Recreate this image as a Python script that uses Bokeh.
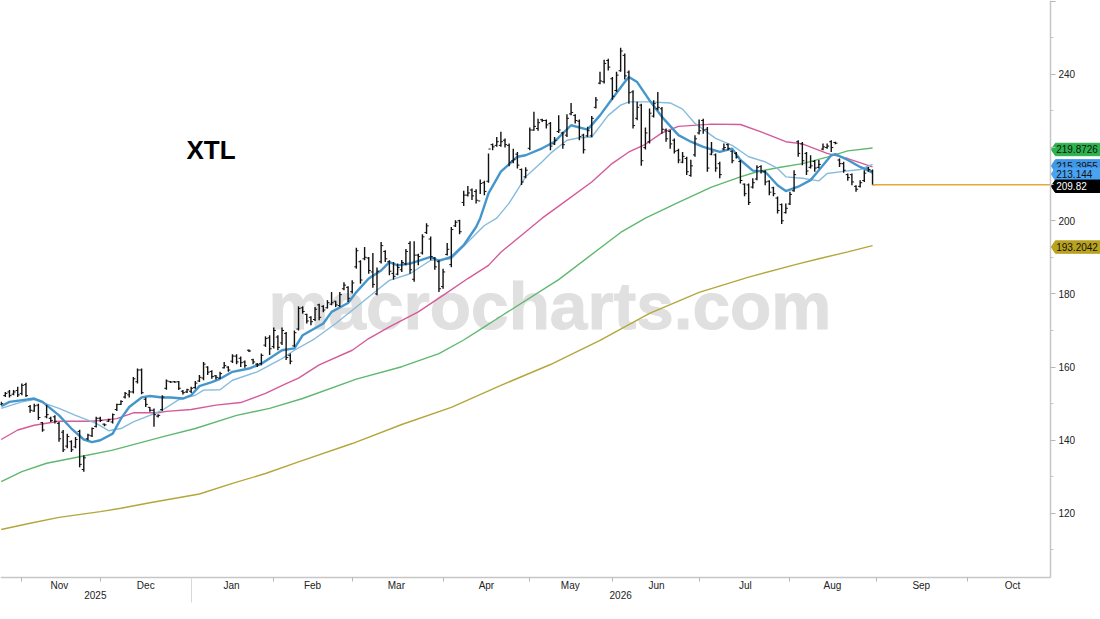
from bokeh.plotting import figure
from bokeh.models import Range1d, LinearAxis, FixedTicker, Label
from bokeh.core.properties import value
from bokeh.embed import file_html
from bokeh.resources import INLINE
import numpy as np

# daily bars
highs = [150.5,153.2,153.7,153.7,154.6,155.5,155.7,149.6,150,150,145,149.6,146.4,146.8,145,142.8,141.8,140,140.9,142.9,135.9,141.8,143.5,146.4,146.4,144.6,145.9,147.3,150,150.9,153.2,153.7,157.3,159.6,159.6,151.7,149.1,148.7,147.1,152.3,156.6,156.2,156.2,156.2,153.7,154.1,154.6,156.2,157.8,161.4,160.2,159.1,157.8,158.7,161.4,160.2,163.5,163.5,162.9,161.8,164.8,162.3,161.1,163.7,
         168.4,168.7,170.8,168.7,170.8,169.6,163.7,170,176.6,176.6,174.6,173.9,176.4,177.3,176.9,178.3,180.5,178.1,180.5,183.2,182.1,183.7,192.6,189.2,192.8,190.1,191.2,187.2,194.2,191.9,189.2,188.7,188.3,189.3,192.3,194.4,194.4,191,196.3,199.3,195.7,190.1,189.2,186.9,193.9,198.3,200.1,200.3,
         208.2,209.5,208.8,208.6,211.3,210.9,218.4,221.1,222.9,224.3,222.5,221.1,219.7,218.8,214.3,214.6,225.5,229.8,227.9,227.9,227.7,227,222.9,228.8,224.3,229.1,232.2,229.1,227.7,223.8,225.7,228.6,233.8,240.7,244,244.3,239.3,240.7,247.3,245.7,241.1,235.7,232.5,232,225.5,230.7,232.9,235.2,231.1,225.2,224.8,222.5,219.7,218.8,217.5,216.7,223.4,227.7,
         227.9,225.6,221.5,218.4,216.1,221.1,221.1,219.3,218.8,216.6,210.2,210.2,211.6,215.2,215.2,213.8,211.1,209.3,206.6,204.7,204.7,207.9,213.8,222,221.5,218.8,217.9,216.6,216.6,221.1,221.1,222,221.6,217,216.1,212.9,212.9,209.7,211.1,213.8,214.7,214]
lows = [149.6,151.8,151.7,152.3,151.8,152.3,151.8,147.5,147.8,145.5,142.3,146,145,144.6,139.6,136.8,137.8,136.8,137.8,132.6,131.4,140,140.9,143.5,145,143.8,145,144.6,148,149.6,151.4,151.7,152.8,155.5,152.6,149.1,147.8,143.7,146.2,148,153.8,155.7,155.7,153.7,152.5,152.9,152.9,154.1,155.9,156.4,157.8,156.8,156.6,156.8,159.6,158.7,161.1,160.8,160,159.8,164.1,160.8,160,160.5,
        165.5,163.3,165.1,164.6,166,161.9,160.8,165.5,170,174.6,171.9,171.4,172.6,172.8,175,176,176.9,176.4,176.4,181,177.8,180.1,186.9,182.8,189.2,185.5,181.7,179.6,188.3,188.7,185.1,183.9,185.1,186,187.8,185.5,183.3,187.8,190.8,196.4,189.2,186.6,180.5,181.4,190.5,187.3,198.3,196.3,
        204,206.6,205.7,204.7,207.3,207,210.4,219.3,220.2,220.2,220,214.9,215.7,214.3,209.8,211.6,219.3,224.6,224.6,227,225.2,219.3,220.7,224,219.7,222.9,228.8,226.6,222,218.4,222.9,222.8,230.7,237.3,237.5,241.1,233.1,235.2,240.7,238.6,232,225.2,227.5,215,219.5,221.1,228.2,230.2,223.8,221.6,219.7,218.4,215.7,215.7,212.5,212,217.5,223.6,
        223.8,213.4,217.9,213.4,211.6,219.3,219.3,215.7,217,210.2,206.7,204.3,208.8,211.1,212.9,209.7,207,206.7,202,199.1,202,204.3,207.9,217.5,215.2,212.5,214.3,213.4,214.3,219.3,219.7,218.8,220.9,214.7,213.1,210.9,209.7,207.9,209.1,210.6,213.4,209.8]
opens = [149.8,152.2,153.2,152.6,153.6,152.8,155.2,149.2,148,149.6,144.8,146.4,146,146.4,144.6,142.2,138.4,139.6,138.2,142.4,132,140.4,141.2,143.8,146,144.4,145.2,145,148.4,149.8,151.8,152.4,153.2,156,159.2,151.2,149,148.2,146.6,148.4,154.2,156,156,156,153.4,153.2,153.4,154.4,156.2,157,160,158.8,157.6,157,159.8,160,161.6,163,162.4,161.4,164.6,162,160.8,161,
         166,168,165.6,168.2,166.6,169.2,163.2,165.8,170.4,176.2,174.4,173.6,173,177,176.6,176.2,177.2,178,176.8,181.4,181.8,180.6,187.4,188.8,189.6,189.8,186,180,188.8,191.6,188.8,185.6,185.4,186.6,188.2,193.8,184,190.6,191.2,196.8,195,189.8,188.8,182,190.8,188,198.6,200,
         205,207,208.4,208,205.4,210.4,210.8,220.8,220.6,220.6,222,220.6,216.4,218.2,214,212,219.8,224.8,225.2,227.6,227.4,226.6,221,224.4,224,223.4,229.2,228.8,227.2,223.4,223.2,223.2,231,237.6,238,243.8,238.8,235.6,241,245.2,240.6,235.2,228,231.6,220,221.6,228.6,230.6,230.6,224.8,224.4,222,219.2,216,217,212.4,218,224,
         227.4,225,218.2,218,215.6,219.6,220.8,219,218.4,216.2,210,209.8,209.2,211.4,214.8,213.4,210.8,209,206.2,204.4,202.2,204.6,208.2,221.6,221,218.4,214.6,216.2,214.6,219.6,220,221.6,221.4,216.6,215.6,212.6,212.6,209.4,209.4,211,214.4,213.6]
closes = [150,152.8,152.2,153.2,152.4,155,152.2,148.2,149.4,146.2,142.8,147,145.4,145.2,140.4,137.4,141,137.4,140.2,133.4,135.2,141.4,143.2,146,145.4,144.2,145.6,147,149.8,150.6,152.8,153.2,156.8,159.2,153,149.8,148.2,147,146.8,151.8,156.2,155.9,155.9,154.2,153,153.8,154.2,155.6,157.2,160.8,158.6,157.4,157.2,158.2,160.4,159.2,163,161.4,161.2,160.4,164.4,161.4,160.6,163.2,
          167.8,165,170,165.4,170,162.6,161.6,169.4,176,175.2,172.6,172.4,175.8,173.6,175.6,177.6,177.6,177,179.8,182.4,178.8,183,191.8,183.8,190,186.4,182.6,186.2,193.2,189.6,186.2,184.8,187.2,188.6,191.6,186.6,190.6,190.2,195.6,198.6,190.2,187.4,181.4,186,192.2,197.6,199.6,197,
          207,207.6,206.8,205.6,210.2,208,219.6,220.2,221.6,221.6,220.8,216,216.8,215.2,210.6,213.8,224.8,225.8,226.8,227.4,226.2,220.4,222,224.8,220.8,228,229.6,227.4,223,219.4,224.6,228,233,238.2,243,242,234,239.8,246.4,239.6,235,226,231,216.4,224,229.4,232,231,225,222.4,221,219,216.6,217.6,213.4,215,222.4,224.6,
          224.8,214.4,218.8,214.4,212.6,220,219.8,216.4,217.4,211,207.4,205,210.4,214.6,213.6,210.6,207.8,207.4,202.8,200,203.4,207.2,212.6,218.4,216.4,213.6,215,214.4,215.4,220.2,220.4,220,221.2,215.6,213.8,211.8,210.6,208.6,210.4,213,214,209.82]

# moving averages, sampled at the bars where they could be read
fast_idx = [0,2,6,8,10,14,17,20,22,24,27,29,31,34,36,39,41,44,46,48,51,53,56,60,63,68,71,73,78,80,84,86,89,92,94,96,99,104,106,109,112,115,116,118,121,125,127,131,134,138,142,145,148,151,152,154,157,160,164,167,170,174,177,179,182,185,188,190,193,196,198,201,202,205,208,211]
fast_ma = [149.3,150.5,151.1,151.4,150.5,146.8,143.2,140.2,139.5,140,141.8,145.9,149.1,151.7,152.1,151.7,151.7,151.4,152.3,154.8,155.9,156.8,158.7,159.6,160.9,164.6,165.1,168.7,171.9,175.1,177.5,180.5,184.2,186.4,188.7,187.8,188.3,190.1,189,190.1,193.3,198.3,200.7,207.5,213.4,217.5,217.9,219.8,221.6,226.1,224.9,228.8,233.4,237.9,239.3,237.9,232.9,228.4,223.4,221.6,220.2,218.8,219.7,216.6,213.7,213.4,209.7,208.1,209.3,211.1,213.8,217.9,218.2,216.6,214.7,213.144]
slow_idx = [0,5,8,14,18,23,26,29,32,36,39,43,47,49,53,56,62,68,71,76,81,86,91,94,99,104,109,113,117,120,123,127,131,133,137,140,143,147,150,152,157,162,165,168,173,177,181,185,188,190,194,198,200,204,208,211]
slow_ma = [148.7,150.5,151.1,148.7,146.8,144.6,142.6,143.2,145,146.8,148.2,151.1,152.3,153.7,153.8,156.4,158.7,162.3,164.6,167.8,171.9,176.4,181,183.7,185.5,189.2,189.6,194.2,198.7,200.7,204.8,212,216.1,218.4,222,222.7,222.9,228.8,231.6,232.5,232.5,232.2,230.5,226.6,222.5,220.6,217.5,216.1,214.3,212,211.6,210.9,212.9,213.5,214,215.3955]
pink_idx = [0,4,8,14,22,28,32,38,40,46,52,58,64,69,72,77,85,89,94,101,107,113,118,121,131,136,143,148,152,156,160,164,172,179,184,190,194,200,205,211]
pink_ma = [140.2,142.8,144.1,145.2,145.2,145.9,147.5,147.5,147.9,148.4,149.6,150.3,152.8,155.5,157,160.6,164.6,167.8,171,175.1,179.6,184.2,187.8,191.4,200.7,204.8,210.6,215.7,218.8,220.9,224,225.8,226.4,226.3,224.3,221.6,221,218.4,217,214.7]
green_idx = [0,5,11,19,27,39,47,57,65,73,86,97,106,112,117,121,135,150,156,164,172,179,183,188,194,200,205,211]
green_ma = [128.7,131.4,133.7,135.5,137.3,140.9,143.2,146.8,148.7,151.4,156.7,160.1,163.7,167.4,171,173.9,183.9,196.8,200.7,205,209.2,212,213.4,214.5,215.6,217.4,219.1,219.8726]
olive_idx = [0,7,14,24,29,36,48,56,64,72,85,97,109,121,133,145,157,169,181,193,198,205,211]
olive_ma = [115.6,117.3,118.9,120.5,121.4,122.9,125.3,128.2,130.9,134.1,139.1,144.3,149,155,160.7,167.3,174.7,180.4,184.6,188.2,189.6,191.5,193.2042]

last_close = 209.82
price_ticks = [120,140,160,180,200,220,240,260]
price_minor = [110,130,150,170,190,210,230,250]

month_labels = ["Nov","Dec","Jan","Feb","Mar","Apr","May","Jun","Jul","Aug","Sep","Oct"]
month_mids = [14.1,35,55.8,75.4,95.7,117.5,137.8,158.7,180.2,201.3,222.8,244.9]
month_starts = [5,24,46,66,85,107,128,148,169,191,212,234]
year_labels = ["2025","2026"]
year_mids = [22.8,150]
year_break = [46]

tag_values = [219.8726,215.3955,213.144,209.82,193.2042]
tag_texts = ["219.8726","215.3955","213.144","209.82","193.2042"]
tag_fill = ["#2db34e","#3f97e8","#4aa3f2","#000000","#b9a21e"]
tag_ink = ["#111111","#111111","#111111","#ffffff","#111111"]

x = np.arange(len(highs))
x_left, x_axis_pos, x_right = -0.17, 254.07, 266.2
y_axis_pos = 102.5

# the frame fills the canvas, the axes are pinned inside it so the tags can sit beyond them
p = figure(width=1100, height=619, output_backend="svg", toolbar_location=None, tools="",
           x_range=Range1d(x_left, x_right), y_range=Range1d(91.0, 260.2),
           x_axis_location=None, y_axis_location=None, min_border=0)
p.outline_line_color = None
p.grid.grid_line_color = None

# watermark sits under everything
p.add_layout(Label(x=268, x_units="screen", y=176.9, text="macrocharts.com", text_color="#e0e0e0",
                   text_outline_color="#e0e0e0", text_font="Liberation Sans", text_font_style="bold",
                   text_font_size="67.5px", text_baseline="alphabetic", level="underlay"))
p.add_layout(Label(x=186, x_units="screen", y=219.4, text="XTL", text_color="#000000",
                   text_font="Liberation Sans", text_font_style="bold", text_font_size="26px",
                   text_baseline="middle"))

# averages
p.line(olive_idx, olive_ma, line_color="#b5a63c", line_width=1.4)
p.line(green_idx, green_ma, line_color="#5fb86f", line_width=1.4)
p.line(pink_idx, pink_ma, line_color="#d65a9a", line_width=1.4)
p.line(slow_idx, slow_ma, line_color="#86bbdd", line_width=1.4)
p.line(fast_idx, fast_ma, line_color="#4596cc", line_width=2.4)

# ohlc bars
p.segment(x, lows, x, highs, line_color="#111111", line_width=1.4)
p.segment(x - 0.5, opens, x, opens, line_color="#111111", line_width=1)
p.segment(x, closes, x + 0.5, closes, line_color="#111111", line_width=1)

# last price line to the axis
p.line([x[-1], x_axis_pos], [last_close, last_close], line_color="#e9a63a", line_width=1.4)

# axes
yaxis = LinearAxis(ticker=FixedTicker(ticks=price_ticks, minor_ticks=price_minor),
                   fixed_location=x_axis_pos, bounds=(y_axis_pos, 260.2))
# 220 is hidden behind the green tag in the original, 260 falls off the top
yaxis.major_label_overrides = {220: "", 260: ""}
yaxis.axis_line_color = "#c6c6c6"
yaxis.axis_line_width = 1.5
yaxis.major_tick_line_color = "#b5b5b5"
yaxis.minor_tick_line_color = "#c6c6c6"
yaxis.major_tick_in = 0
yaxis.major_tick_out = 5
yaxis.minor_tick_in = 0
yaxis.minor_tick_out = 3
yaxis.major_label_standoff = 3
yaxis.major_label_text_font = "Liberation Sans"
yaxis.major_label_text_font_size = "10px"
yaxis.major_label_text_color = "#222222"
p.add_layout(yaxis, "right")

xaxis = LinearAxis(ticker=FixedTicker(ticks=month_mids, minor_ticks=month_starts),
                   fixed_location=y_axis_pos, bounds=(x_left, x_axis_pos))
xaxis.major_label_overrides = dict(zip(month_mids, month_labels))
xaxis.axis_line_color = "#c6c6c6"
xaxis.axis_line_width = 1.5
xaxis.major_tick_line_color = None
xaxis.minor_tick_line_color = "#b5b5b5"
xaxis.minor_tick_in = 0
xaxis.minor_tick_out = 4
xaxis.major_label_standoff = -3
xaxis.major_label_text_font = "Liberation Sans"
xaxis.major_label_text_font_size = "10px"
xaxis.major_label_text_color = "#222222"
p.add_layout(xaxis, "below")

year_axis = LinearAxis(ticker=FixedTicker(ticks=year_mids, minor_ticks=year_break),
                       fixed_location=y_axis_pos)
year_axis.major_label_overrides = dict(zip(year_mids, year_labels))
year_axis.axis_line_color = None
year_axis.major_tick_line_color = None
year_axis.minor_tick_line_color = "#d8d8d8"
year_axis.minor_tick_in = 0
year_axis.minor_tick_out = 25
year_axis.major_label_standoff = -11
year_axis.major_label_text_font = "Liberation Sans"
year_axis.major_label_text_font_size = "10px"
year_axis.major_label_text_color = "#222222"
p.add_layout(year_axis, "below")

# value tags on the right edge
for val, txt, fill, ink in zip(tag_values, tag_texts, tag_fill, tag_ink):
    mid = val - 0.4
    p.patch([x_axis_pos + 0.2, x_axis_pos + 1.2, x_right, x_right, x_axis_pos + 1.2],
            [mid, mid + 1.7, mid + 1.7, mid - 1.7, mid - 1.7], fill_color=fill, line_color=fill)
    p.text([x_axis_pos + 1.4], [mid], text=[txt], text_color=ink, text_font=value("Liberation Sans"),
           text_font_size="10px", text_baseline="middle")

open("out.html", "w").write(file_html(p, INLINE))
